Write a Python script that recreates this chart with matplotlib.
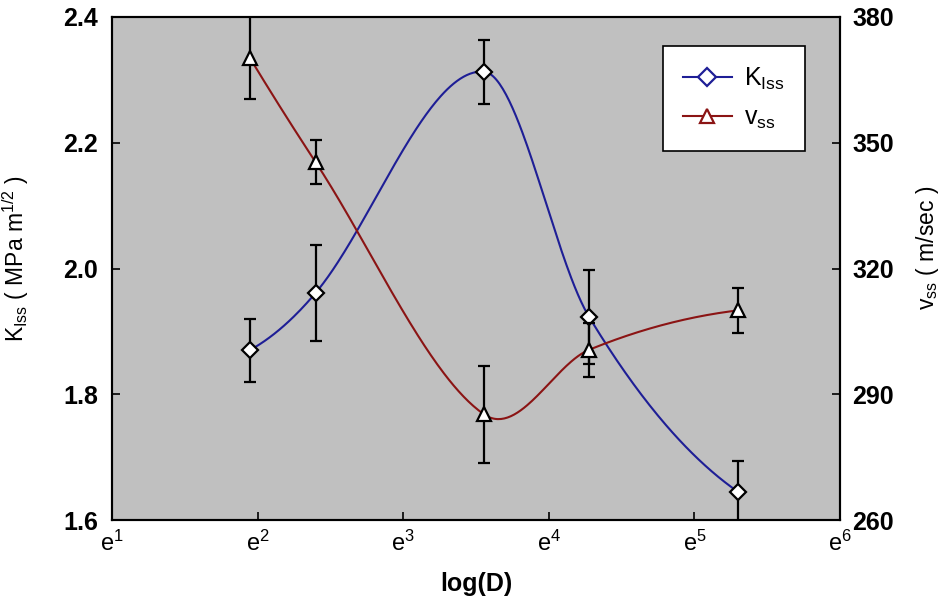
import numpy as np
import matplotlib
matplotlib.use("Agg")
import matplotlib.pyplot as plt
import matplotlib.transforms as mtransforms
from matplotlib.lines import Line2D

plt.rcParams['font.family'] = ['Liberation Sans', 'DejaVu Sans']
plt.rcParams['mathtext.fontset'] = 'custom'
plt.rcParams['mathtext.rm'] = 'Liberation Sans'
plt.rcParams['mathtext.it'] = 'Liberation Sans'
plt.rcParams['mathtext.default'] = 'regular'

# data
D = [7, 11, 35, 72, 200]
K_Iss = [1.870, 1.961, 2.313, 1.923, 1.645]
K_err = [0.050, 0.077, 0.051, 0.075, 0.049]
v_ss = [370.3, 345.4, 285.2, 300.6, 310.0]
v_err = [9.9, 5.2, 11.6, 6.4, 5.4]
xtick_pow = [1, 2, 3, 4, 5, 6]


def smooth_curve(x, y, n=300):
    # hermite spline with central-difference tangents, like the original plot program
    x = np.asarray(x, float)
    y = np.asarray(y, float)
    m = np.zeros(len(x))
    m[1:-1] = (y[2:] - y[:-2]) / (x[2:] - x[:-2])
    m[0] = 2 * (y[1] - y[0]) / (x[1] - x[0]) - m[1]
    m[-1] = 2 * (y[-1] - y[-2]) / (x[-1] - x[-2]) - m[-2]
    xs = np.linspace(x[0], x[-1], n)
    k = np.clip(np.searchsorted(x, xs) - 1, 0, len(x) - 2)
    h = x[k + 1] - x[k]
    t = (xs - x[k]) / h
    h00 = 2 * t ** 3 - 3 * t ** 2 + 1
    h10 = t ** 3 - 2 * t ** 2 + t
    h01 = -2 * t ** 3 + 3 * t ** 2
    h11 = t ** 3 - t ** 2
    ys = h00 * y[k] + h10 * h * m[k] + h01 * y[k + 1] + h11 * h * m[k + 1]
    return xs, ys


fig = plt.figure(figsize=(9.45, 6.11), dpi=100)
ax = fig.add_axes([112 / 945, 1 - 520 / 611, 728 / 945, 503 / 611])
ax.set_facecolor('#c0c0c0')
ax2 = ax.twinx()

blue = '#1e1e96'
red = '#8b1414'

lnD = np.log(D)
xs, ks = smooth_curve(lnD, K_Iss)
ax.plot(np.exp(xs), ks, color=blue, lw=1.5, zorder=2)
ax.errorbar(D, K_Iss, yerr=K_err, fmt='none', ecolor='black', elinewidth=1.6,
            capsize=4.5, capthick=1.6, zorder=3)
ax.plot(D, K_Iss, ls='none', marker='D', ms=8.5, mfc='white', mec='black', mew=1.6, zorder=4)

xs, vs = smooth_curve(lnD, v_ss)
ax2.plot(np.exp(xs), vs, color=red, lw=1.5, zorder=2)
ax2.errorbar(D, v_ss, yerr=v_err, fmt='none', ecolor='black', elinewidth=1.6,
             capsize=4.5, capthick=1.6, zorder=3)
ax2.plot(D, v_ss, ls='none', marker='^', ms=10, mfc='white', mec='black', mew=1.6, zorder=4)

ax.set_xscale('log', base=np.e)
ax.set_xlim(np.e ** 1, np.e ** 6)
ax.set_xticks([np.e ** p for p in xtick_pow])
ax.set_xticklabels(['e$^{%d}$' % p for p in xtick_pow], fontsize=17)
ax.xaxis.set_minor_locator(matplotlib.ticker.NullLocator())
# the "e" sits on the tick, the exponent hangs to the right
shift = mtransforms.ScaledTranslation(-5 / 100, 0, fig.dpi_scale_trans)
for lab in ax.get_xticklabels():
    lab.set_transform(lab.get_transform() + shift)

ax.set_ylim(1.6, 2.4)
ax.set_yticks([1.6, 1.8, 2.0, 2.2, 2.4])
ax.set_yticklabels(['1.6', '1.8', '2.0', '2.2', '2.4'], fontsize=18, fontweight='bold')
ax2.set_ylim(260, 380)
ax2.set_yticks([260, 290, 320, 350, 380])
ax2.set_yticklabels(['260', '290', '320', '350', '380'], fontsize=18, fontweight='bold')

ax.tick_params(axis='both', direction='in', length=6, width=1.2, pad=10)
ax.tick_params(axis='x', pad=8)
ax2.tick_params(axis='y', direction='in', length=6, width=1.2, pad=9)
for a in (ax, ax2):
    for s in a.spines.values():
        s.set_linewidth(1.5)

ax.set_xlabel('log(D)', fontsize=18, fontweight='bold', labelpad=11)
ax.set_ylabel('K$_{Iss}$ ( MPa m$^{1/2}$ )', fontsize=16.5)
ax2.set_ylabel('v$_{ss}$ ( m/sec )', fontsize=16.5)
ax.yaxis.set_label_coords(-0.111, 0.52)
ax2.yaxis.set_label_coords(1.102, 0.54)

handles = [
    Line2D([], [], color=blue, lw=1.5, marker='D', ms=9, mfc='white', mec=blue, mew=1.6),
    Line2D([], [], color=red, lw=1.5, marker='^', ms=10, mfc='white', mec=red, mew=1.6),
]
leg = ax2.legend(handles, ['K$_{Iss}$', 'v$_{ss}$'], loc='upper left',
                 bbox_to_anchor=(0.757, 0.942), borderaxespad=0, fontsize=18,
                 frameon=True, fancybox=False, edgecolor='black', framealpha=1,
                 handlelength=1.95, labelspacing=0.55, borderpad=0.8, handletextpad=0.5)
leg.get_frame().set_linewidth(1.2)

fig.savefig('out.png', dpi=100)
